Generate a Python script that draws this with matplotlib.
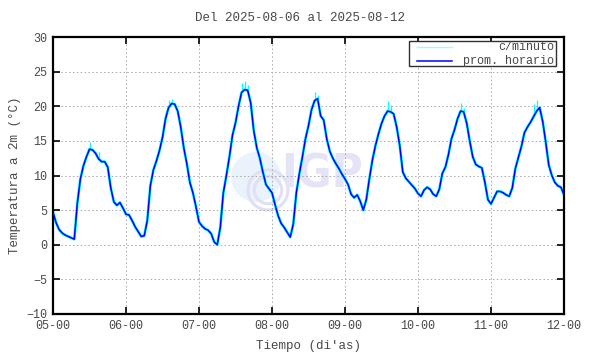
import numpy as np
import matplotlib
matplotlib.use("Agg")
import matplotlib.pyplot as plt
from matplotlib.patches import Ellipse, Rectangle

# promedio horario (hora 0..23 de cada dia)
dia_05 = [4.7, 3.2, 2.2, 1.7, 1.4, 1.2, 1.0, 0.8, 6.0, 9.5, 11.4, 12.7,
          13.8, 13.7, 13.2, 12.4, 12.0, 12.0, 11.2, 8.2, 6.2, 5.7, 6.1, 5.3]
dia_06 = [4.4, 4.3, 3.5, 2.6, 1.9, 1.2, 1.3, 3.5, 8.5, 10.8, 12.1, 13.6,
          15.5, 18.2, 19.8, 20.4, 20.3, 19.3, 17.0, 14.0, 11.7, 9.0, 7.5, 5.5]
dia_07 = [3.3, 2.7, 2.3, 2.1, 1.6, 0.4, 0.0, 2.5, 7.5, 10.0, 12.7, 15.8,
          17.6, 20.0, 22.0, 22.4, 22.3, 20.5, 16.5, 14.0, 12.5, 10.5, 8.7, 8.1]
dia_08 = [7.5, 5.8, 4.2, 3.1, 2.5, 1.8, 1.1, 3.0, 7.5, 10.3, 12.7, 15.3,
          17.2, 19.5, 20.8, 21.1, 18.6, 18.0, 15.3, 13.5, 12.5, 11.7, 11.0, 10.2]
dia_09 = [9.5, 8.7, 7.3, 6.8, 7.2, 6.3, 5.0, 6.5, 9.5, 12.2, 14.3, 16.0,
          17.5, 18.6, 19.3, 19.2, 18.9, 17.0, 14.3, 10.5, 9.6, 9.1, 8.6, 8.1]
dia_10 = [7.4, 7.0, 7.9, 8.3, 8.0, 7.3, 7.0, 8.0, 10.3, 11.2, 13.0, 15.3,
          16.6, 18.2, 19.3, 19.2, 17.6, 15.0, 12.7, 11.6, 11.3, 11.1, 9.0, 6.5]
dia_11 = [5.9, 6.8, 7.7, 7.7, 7.5, 7.2, 7.0, 8.2, 11.0, 12.6, 14.2, 16.2,
          17.0, 17.7, 18.5, 19.3, 19.8, 17.8, 14.8, 11.5, 10.0, 9.0, 8.5, 8.3]
final_12 = [7.2]

# picos del registro por minuto (hora desde 05-00, valor)
pico_horas = [12, 15, 38, 39, 62, 63, 64, 86, 87, 110, 111, 134, 135, 158, 159]
pico_vals = [14.9, 13.4, 20.9, 21.0, 23.4, 23.6, 23.0, 22.0, 21.6,
             20.8, 20.2, 20.4, 19.8, 20.3, 20.9]

tick_labels = ["05-00", "06-00", "07-00", "08-00", "09-00", "10-00", "11-00", "12-00"]

prom = dia_05 + dia_06 + dia_07 + dia_08 + dia_09 + dia_10 + dia_11 + final_12
horas = np.arange(len(prom))

mono = "Liberation Mono"
gris = "#484848"

fig = plt.figure(figsize=(5.9, 3.54), dpi=100)
ax = fig.add_axes([53 / 590, 1 - 314 / 354, 511 / 590, 277 / 354])
ax.set_zorder(2)
ax.set_facecolor("none")

# marca de agua IGP (detras del grafico)
fig.patches.append(Ellipse((256 / 590, 1 - 177 / 354), 50 / 590, 50 / 354,
                           transform=fig.transFigure, facecolor="#eaf2fc",
                           edgecolor="none", zorder=0))
for r in [0.55, 0.8]:
    fig.patches.append(Ellipse((268 / 590, 1 - 190 / 354), r * 50 / 590, r * 50 / 354,
                               transform=fig.transFigure, facecolor="none",
                               edgecolor="#e0e0f4", lw=2.2, zorder=0))
fig.text(322 / 590, 1 - 175 / 354, "IGP", fontsize=34, fontweight="bold",
         fontstretch="condensed", color="#e4e4f6", ha="center", va="center",
         family="DejaVu Sans", zorder=0)

ax.plot(horas, prom, color="#00ffff", lw=2.0, zorder=2)
ax.vlines(pico_horas, np.array(prom)[pico_horas], pico_vals, color="#00ffff",
          lw=0.9, zorder=2)
ax.plot(horas, prom, color="#0000ff", lw=1.1, zorder=3)

ax.set_xlim(0, 168)
ax.set_ylim(-10, 30)
ax.set_xticks(np.arange(0, 169, 24))
ax.set_xticklabels(tick_labels)
ax.set_yticks(np.arange(-10, 31, 5))
ax.grid(True, color="#a8a8a8", ls=(0, (1.5, 2.5)), lw=0.7)
ax.tick_params(direction="in", length=5, width=1.2, top=True, right=True,
               colors="black", labelcolor=gris, labelsize=8.5, pad=4)
for lbl in ax.get_xticklabels() + ax.get_yticklabels():
    lbl.set_family(mono)
for s in ax.spines.values():
    s.set_linewidth(1.6)

ax.set_xlabel("Tiempo (di'as)", family=mono, fontsize=9, color=gris, labelpad=6)
ax.set_ylabel("Temperatura a 2m (°C)", family=mono, fontsize=9, color=gris, labelpad=4)
fig.text(300 / 590, 1 - 18 / 354, "Del 2025-08-06 al 2025-08-12", family=mono,
         fontsize=9, color=gris, ha="center", va="center")

# leyenda estilo gnuplot
ax.add_patch(Rectangle((0.697, 0.895), 0.287, 0.091, transform=ax.transAxes,
                       facecolor="white", edgecolor="#303030", lw=1.0, zorder=5))
ax.plot([0.712, 0.780], [0.963, 0.963], transform=ax.transAxes,
        color="#99ffff", lw=1.0, zorder=6)
ax.plot([0.712, 0.780], [0.915, 0.915], transform=ax.transAxes,
        color="#0000ff", lw=1.1, zorder=6)
ax.text(0.980, 0.963, "c/minuto", transform=ax.transAxes, family=mono,
        fontsize=8.5, color=gris, ha="right", va="center", zorder=6)
ax.text(0.980, 0.915, "prom. horario", transform=ax.transAxes, family=mono,
        fontsize=8.5, color=gris, ha="right", va="center", zorder=6)

fig.savefig("out.png", dpi=100)
